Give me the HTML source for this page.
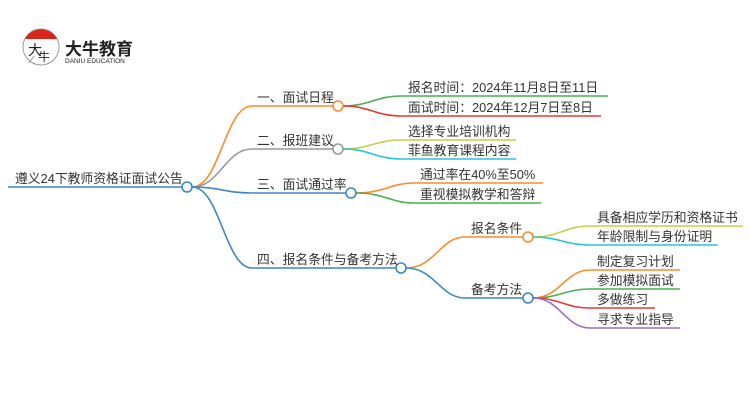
<!DOCTYPE html>
<html><head><meta charset="utf-8"><style>
html,body{margin:0;padding:0;background:#fff;}
svg{display:block;}
text{font-family:"Liberation Sans","Noto Sans CJK SC",sans-serif;fill:#333;}
</style></head><body>
<svg width="750" height="410" viewBox="0 0 750 410" xmlns="http://www.w3.org/2000/svg">
<!-- logo -->
<circle cx="41" cy="47" r="18" fill="#fff" stroke="#999" stroke-width="1"/>
<path d="M25 39 A18 18 0 0 1 57 39 Z" fill="#d9261c"/>
<path d="M29 63 L34 56" stroke="#999" stroke-width="1" fill="none"/>
<text x="28" y="55" font-size="14" style="fill:#222">大</text>
<text x="38" y="61" font-size="12" style="fill:#222">牛</text>
<text x="65" y="55" font-size="17" font-weight="bold" style="fill:#222">大牛教育</text>
<text x="65" y="63" font-size="6.5" style="fill:#222">DANIU EDUCATION</text>

<g fill="none" stroke-width="1.6">
<path d="M8 187 H182" stroke="#3f86c4"/>
<path d="M192 187 C220 187 225 106 252 106 H333" stroke="#fb8c2c"/>
<path d="M192 187 C220 187 225 149 252 149 H333" stroke="#999"/>
<path d="M192 187 C220 187 225 193 252 193 H346" stroke="#3f86c4"/>
<path d="M192 187 C220 187 225 268 252 268 H396" stroke="#3f86c4"/>
<path d="M343 106 C370 106 375 96 402 96 H608" stroke="#4caf50"/>
<path d="M343 106 C370 106 375 116 402 116 H601" stroke="#e53935"/>
<path d="M343 149 C370 149 375 140 402 140 H516" stroke="#c5cd4f"/>
<path d="M343 149 C370 149 375 159 402 159 H516" stroke="#26c6da"/>
<path d="M356 193 C385 193 390 183 415 183 H543" stroke="#fb8c2c"/>
<path d="M356 193 C385 193 390 203 415 203 H541" stroke="#4caf50"/>
<path d="M406 268 C435 268 440 237 465 237 H523" stroke="#fb8c2c"/>
<path d="M406 268 C435 268 440 298 465 298 H523" stroke="#3f86c4"/>
<path d="M533 237 C560 237 565 226 590 226 H743" stroke="#c5cd4f"/>
<path d="M533 237 C560 237 565 245 590 245 H718" stroke="#26c6da"/>
<path d="M533 298 C560 298 565 270 590 270 H680" stroke="#fb8c2c"/>
<path d="M533 298 C560 298 565 289 590 289 H680" stroke="#4caf50"/>
<path d="M533 298 C560 298 565 308 590 308 H655" stroke="#e53935"/>
<path d="M533 298 C560 298 565 328 590 328 H680" stroke="#9c6cc9"/>
</g>
<g fill="#fff" stroke-width="1.6">
<circle cx="187" cy="187" r="5" stroke="#3f86c4"/>
<circle cx="338" cy="106" r="5" stroke="#fb8c2c"/>
<circle cx="338" cy="149" r="5" stroke="#999"/>
<circle cx="351" cy="193" r="5" stroke="#3f86c4"/>
<circle cx="401" cy="268" r="5" stroke="#3f86c4"/>
<circle cx="528" cy="237" r="5" stroke="#fb8c2c"/>
<circle cx="528" cy="298" r="5" stroke="#3f86c4"/>
</g>
<g font-size="12.8">
<text x="15" y="183">遵义24下教师资格证面试公告</text>
<text x="257" y="102">一、面试日程</text>
<text x="257" y="145">二、报班建议</text>
<text x="257" y="189">三、面试通过率</text>
<text x="257" y="264">四、报名条件与备考方法</text>
<text x="408" y="92">报名时间：2024年11月8日至11日</text>
<text x="408" y="112">面试时间：2024年12月7日至8日</text>
<text x="408" y="136">选择专业培训机构</text>
<text x="408" y="155">菲鱼教育课程内容</text>
<text x="420" y="179">通过率在40%至50%</text>
<text x="420" y="199">重视模拟教学和答辩</text>
<text x="471" y="233">报名条件</text>
<text x="471" y="294">备考方法</text>
<text x="597" y="222">具备相应学历和资格证书</text>
<text x="597" y="241">年龄限制与身份证明</text>
<text x="597" y="266">制定复习计划</text>
<text x="597" y="285">参加模拟面试</text>
<text x="597" y="304">多做练习</text>
<text x="597" y="324">寻求专业指导</text>
</g>
</svg>
</body></html>
